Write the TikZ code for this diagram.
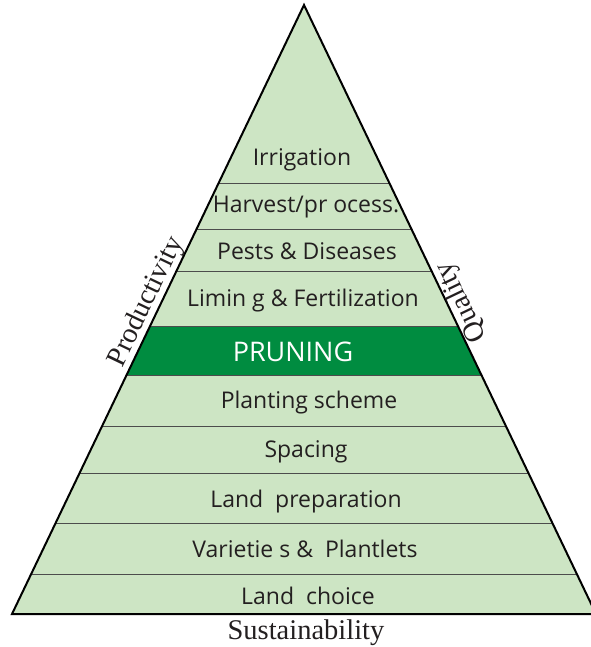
\documentclass[tikz,border=0pt]{standalone}
\usepackage{fontspec}
\setmainfont{Liberation Serif}
\setsansfont{Open Sans}
\usetikzlibrary{positioning}

\definecolor{leaf}{RGB}{205,229,196}
\definecolor{prune}{RGB}{0,140,64}
\definecolor{ink}{RGB}{35,31,32}

\begin{document}
\begin{tikzpicture}[
    x=1pt, y=-1pt,
    layer/.style={anchor=base, font=\sffamily\fontsize{23}{25}\selectfont, text=ink, inner sep=0pt},
    side/.style={font=\rmfamily\fontsize{28.5}{30}\selectfont, text=ink, inner sep=0.5pt},
    band/.style={draw=black!70, line width=0.9pt},
  ]
  \useasboundingbox (0,0) rectangle (590,647);
  \coordinate (apex) at (304,5);
  \coordinate (bl) at (12,614);
  \coordinate (br) at (596,614);

  % pyramid body and its bands
  \fill[leaf] (apex) -- (bl) -- (br) -- cycle;
  \begin{scope}
    \clip (apex) -- (bl) -- (br) -- cycle;
    \fill[prune] (0,326) rectangle (600,375);
    \foreach \y in {183,229,271,326,375,426,473,523,574}
      \draw[band] (0,\y) -- (600,\y);
  \end{scope}
  \draw[line width=2pt, line join=miter] (apex) -- (bl) -- (br) -- cycle;

  % layers, top to bottom
  \node[layer] (irrigation) at (302,166) {Irrigation};
  \node[layer] (harvest) at (306,212) {Harvest/pr ocess.};
  \node[layer] (pests) at (307,259) {Pests \& Diseases};
  \node[layer] (liming) at (303,306) {Limin g \& Fertilization};
  \node[layer, text=white, font=\sffamily\fontsize{27}{29}\selectfont] (pruning) at (293,361) {PRUNING};
  \node[layer] (planting) at (309,408) {Planting scheme};
  \node[layer] (spacing) at (306,457) {Spacing};
  \node[layer] (landprep) at (306,507) {Land \ preparation};
  \node[layer] (varieties) at (305,557) {Varietie s \& \ Plantlets};
  \node[layer] (landchoice) at (308,604) {Land \ choice};

  % sides
  \path (apex) -- (bl) coordinate[pos=0.497] (leftmid);
  \path (apex) -- (br) coordinate[pos=0.497] (rightmid);
  \node[side, rotate=64.39, anchor=south] (productivity) at (leftmid) {Productivity};
  \node[side, rotate=115.61, anchor=north] (quality) at (rightmid) {Quality};
  \node[side, anchor=base] (sustainability) at (306,639) {Sustainability};
\end{tikzpicture}
\end{document}
